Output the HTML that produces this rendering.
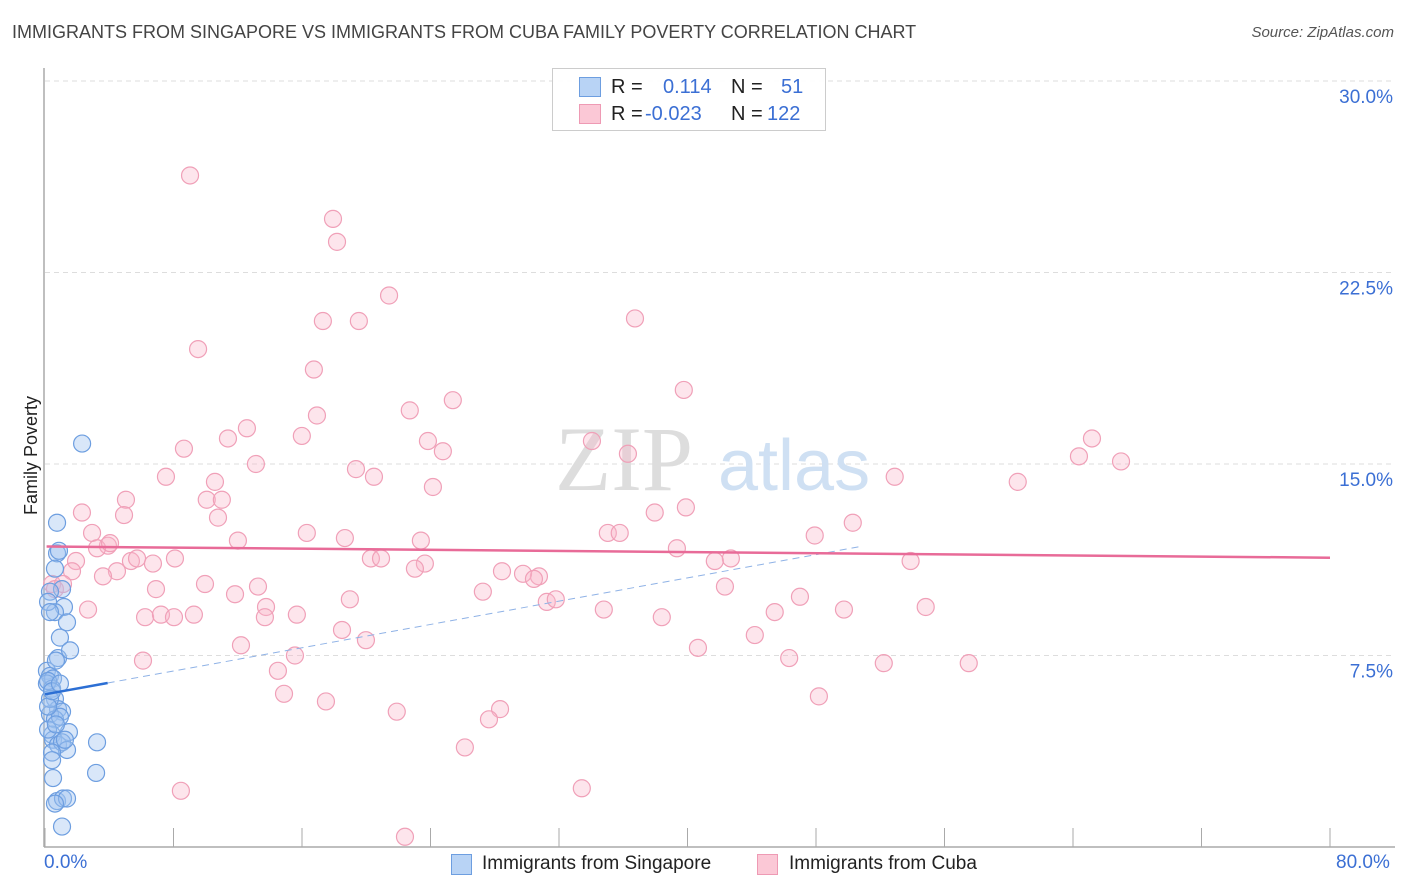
<!DOCTYPE html>
<html><head><meta charset="utf-8">
<style>
body{margin:0;background:#fff;font-family:"Liberation Sans",sans-serif;}
#wrap{position:relative;width:1406px;height:892px;overflow:hidden;}
.t{position:absolute;white-space:nowrap;}
</style></head>
<body>
<div id="wrap">
<div class="t" style="left:12px;top:22px;font-size:18px;color:#444;">IMMIGRANTS FROM SINGAPORE VS IMMIGRANTS FROM CUBA FAMILY POVERTY CORRELATION CHART</div>
<div class="t" style="right:12px;top:24px;font-size:15px;color:#555;font-style:italic;">Source: ZipAtlas.com</div>
<div class="t" style="left:-28px;top:445px;font-size:18px;color:#222;transform:rotate(-90deg);">Family Poverty</div>
<svg id="plot" width="1406" height="892" style="position:absolute;left:0;top:0"></svg>
<div style="position:absolute;left:552px;top:68px;width:272px;height:61px;border:1px solid #ccc;background:rgba(255,255,255,0.9);font-size:20px;">
  <div style="position:absolute;left:26px;top:8px;width:20px;height:18px;background:#b8d3f5;border:1px solid #6d9ee0;"></div>
  <div class="t" style="left:58px;top:7px;color:#222;">R =</div>
  <div class="t" style="left:110px;top:7px;color:#3b6fd4;">0.114</div>
  <div class="t" style="left:178px;top:7px;color:#222;">N =</div>
  <div class="t" style="left:228px;top:7px;color:#3b6fd4;">51</div>
  <div style="position:absolute;left:26px;top:35px;width:20px;height:18px;background:#fbc8d6;border:1px solid #ee9ab4;"></div>
  <div class="t" style="left:58px;top:34px;color:#222;">R =</div>
  <div class="t" style="left:92px;top:34px;color:#3b6fd4;">-0.023</div>
  <div class="t" style="left:178px;top:34px;color:#222;">N =</div>
  <div class="t" style="left:214px;top:34px;color:#3b6fd4;">122</div>
</div>
<div class="t" style="left:44px;top:852px;font-size:19px;color:#3b6fd4;">0.0%</div>
<div class="t" style="left:1336px;top:852px;font-size:19px;color:#3b6fd4;">80.0%</div>
<div style="position:absolute;left:451px;top:854px;width:19px;height:19px;background:#b8d3f5;border:1px solid #6d9ee0;"></div>
<div class="t" style="left:482px;top:853px;font-size:19px;color:#222;">Immigrants from Singapore</div>
<div style="position:absolute;left:757px;top:854px;width:19px;height:19px;background:#fbc8d6;border:1px solid #ee9ab4;"></div>
<div class="t" style="left:789px;top:853px;font-size:19px;color:#222;">Immigrants from Cuba</div>
</div>
<script>
// Data (x = % immigrants, y = family poverty %)
const yTicks=[7.5,15,22.5,30];
const xTickCount=10;
const blueX=[2.31,0.75,0.75,0.87,0.62,1.06,0.31,1.18,0.62,1.37,0.93,0.81,1.56,0.12,0.31,0.50,0.12,0.44,0.62,0.81,1.06,0.31,0.62,0.44,1.49,0.50,0.81,1.06,1.37,0.44,3.24,3.18,0.50,0.75,1.12,1.37,1.06,0.19,0.31,0.93,0.19,0.68,0.19,0.31,0.68,1.24,0.44,0.62,0.19,0.44,0.93];
const blueY=[15.8,12.7,11.5,11.6,10.9,10.1,10.0,9.4,9.2,8.8,8.2,7.4,7.7,6.9,6.7,6.6,6.4,6.2,5.8,5.4,5.3,5.2,5.0,4.4,4.5,4.2,4.0,4.1,3.8,3.7,4.1,2.9,2.7,1.8,1.9,1.9,0.8,9.6,9.2,5.1,4.6,7.3,6.5,5.8,4.8,4.2,3.4,1.7,5.5,6.1,6.4];
const pinkX=[9.03,17.93,18.18,21.42,17.30,19.54,9.53,36.73,16.74,39.77,22.71,25.39,16.93,15.99,11.39,12.57,8.65,23.84,24.77,34.05,36.29,65.18,64.37,66.99,13.13,19.36,20.48,7.53,10.58,24.15,52.90,60.56,5.04,10.07,11.01,2.30,4.92,10.77,37.96,39.90,50.29,2.93,16.30,35.04,35.78,47.92,12.01,18.67,23.40,3.92,3.24,4.05,8.09,39.34,42.70,41.70,20.29,20.92,5.35,5.73,6.72,1.93,1.68,53.89,23.65,23.03,28.45,30.75,29.76,30.44,4.48,3.61,0.44,0.62,1.12,9.96,6.91,13.26,42.33,27.26,47.00,11.83,18.98,31.24,31.80,2.68,13.76,34.79,54.83,49.74,45.43,38.40,6.23,7.22,8.03,9.27,15.68,13.69,18.49,44.19,19.98,12.20,40.65,15.56,6.10,52.22,57.51,46.33,14.50,14.88,48.18,17.49,28.33,27.64,21.90,26.14,8.46,33.42,22.41];
const pinkY=[26.3,24.6,23.7,21.6,20.6,20.6,19.5,20.7,18.7,17.9,17.1,17.5,16.9,16.1,16.0,16.4,15.6,15.9,15.5,15.9,15.4,16.0,15.3,15.1,15.0,14.8,14.5,14.5,14.3,14.1,14.5,14.3,13.6,13.6,13.6,13.1,13.0,12.9,13.1,13.3,12.7,12.3,12.3,12.3,12.3,12.2,12.0,12.1,12.0,11.8,11.7,11.9,11.3,11.7,11.3,11.2,11.3,11.3,11.2,11.3,11.1,11.2,10.8,11.2,11.1,10.9,10.8,10.6,10.7,10.5,10.8,10.6,10.3,10.1,10.3,10.3,10.1,10.2,10.2,10.0,9.8,9.9,9.7,9.6,9.7,9.3,9.4,9.3,9.4,9.3,9.2,9.0,9.0,9.1,9.0,9.1,9.1,9.0,8.5,8.3,8.1,7.9,7.8,7.5,7.3,7.2,7.2,7.4,6.9,6.0,5.9,5.7,5.4,5.0,5.3,3.9,2.2,2.3,0.4];
const blueFit=[5.98,0.114];   // intercept, slope (y% per x%)
const pinkFit=[11.77,-0.0055];

const X0=45,X1=1330,Y0=847,PX_PER_Y=191.5/7.5;
const xs=v=>X0+(v/80)*(X1-X0);
const ys=v=>Y0-v*PX_PER_Y;
const svg=document.getElementById('plot');
const NS='http://www.w3.org/2000/svg';
function mk(tag,attrs){const e=document.createElementNS(NS,tag);for(const k in attrs)e.setAttribute(k,attrs[k]);svg.appendChild(e);return e;}

// gridlines & y labels
yTicks.forEach(t=>{
  const g=mk('line',{x1:45,x2:1395,y1:ys(t),y2:ys(t),stroke:'#ddd','stroke-dasharray':'5,4'});
  
  
  const tx=mk('text',{x:1393,y:ys(t)+22,'text-anchor':'end','font-size':19,fill:'#3b6fd4','font-family':'Liberation Sans, sans-serif'});
  tx.textContent=t.toFixed(1)+'%';
  
  
});
// axes
const ya=mk('line',{x1:44,x2:44,y1:68,y2:847,stroke:'#aaa','stroke-width':1.5});


const xa=mk('line',{x1:44,x2:1395,y1:847,y2:847,stroke:'#aaa','stroke-width':1.5});


for(let i=0;i<=xTickCount;i++){
  const x=xs(i*80/xTickCount);
  const tk=mk('line',{x1:x,x2:x,y1:828,y2:847,stroke:'#aaa'});
  
  
}
// watermark
const wm=mk('text',{x:555,y:490,'font-size':92,fill:'#ddd','font-family':'Liberation Serif, serif'});
wm.textContent='ZIP';


const wm2=mk('text',{x:718,y:490,'font-size':72,fill:'#cfe0f3','font-family':'Liberation Sans, sans-serif'});
wm2.textContent='atlas';



// points
pinkX.forEach((v,i)=>{
  const c=mk('circle',{cx:xs(v),cy:ys(pinkY[i]),r:8.5,fill:'rgba(248,180,200,0.35)',stroke:'#f0a0b8','stroke-width':1.2});
  
  
});
blueX.forEach((v,i)=>{
  const c=mk('circle',{cx:xs(v),cy:ys(blueY[i]),r:8.5,fill:'rgba(160,195,240,0.4)',stroke:'#6d9ee0','stroke-width':1.2});
  
  
});
// trend lines
const fy=(f,x)=>f[0]+f[1]*x;
const bd=mk('line',{x1:xs(3.9),y1:ys(fy(blueFit,3.9)),x2:xs(50.9),y2:ys(fy(blueFit,50.9)),stroke:'#8fb2e6','stroke-width':1,'stroke-dasharray':'7,5'});


const bl=mk('line',{x1:xs(0),y1:ys(fy(blueFit,0)),x2:xs(3.9),y2:ys(fy(blueFit,3.9)),stroke:'#2c6fd4','stroke-width':2.5});


const pl=mk('line',{x1:xs(0.1),y1:ys(fy(pinkFit,0.1)),x2:xs(80),y2:ys(fy(pinkFit,80)),stroke:'#e86b98','stroke-width':2.5});


</script>
</body></html>
